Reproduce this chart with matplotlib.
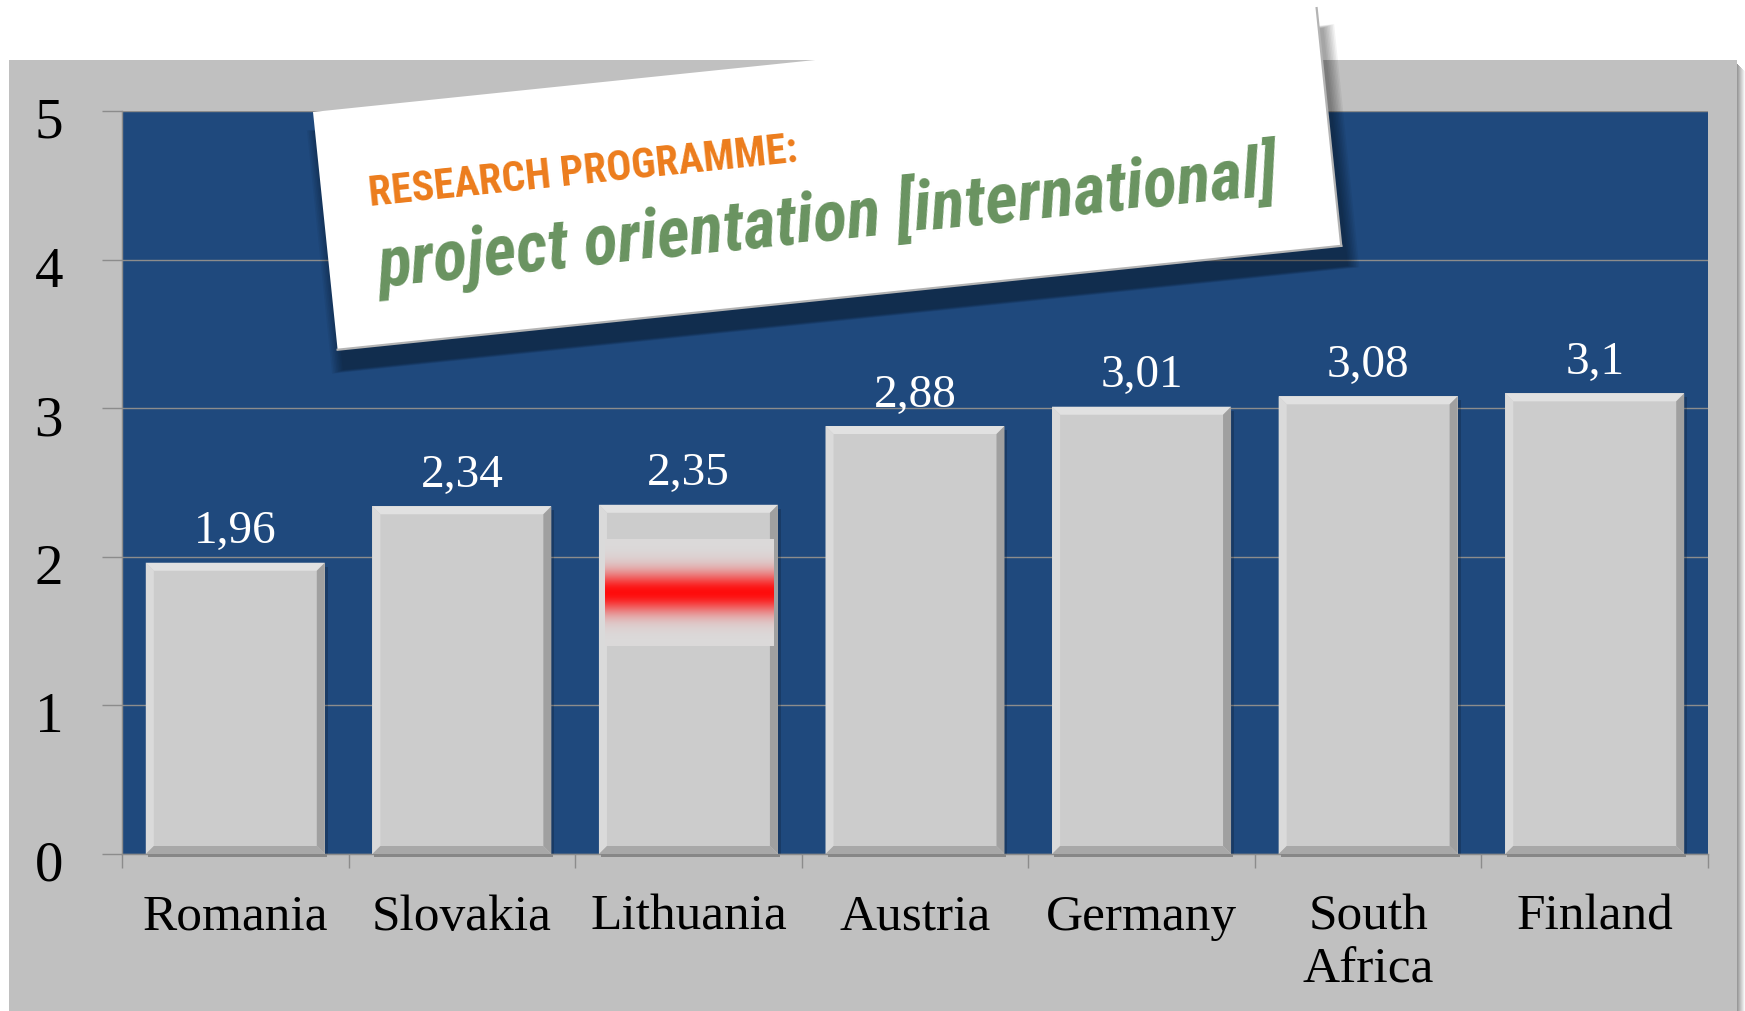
import matplotlib
matplotlib.use("Agg")
import numpy as np
import matplotlib.pyplot as plt
from matplotlib import font_manager as fm
from matplotlib.patches import Polygon, Rectangle
from matplotlib.lines import Line2D
from matplotlib.transforms import ScaledTranslation

# --- data ---
categories = ["Romania", "Slovakia", "Lithuania", "Austria", "Germany", "South\nAfrica", "Finland"]
scores = [1.96, 2.34, 2.35, 2.88, 3.01, 3.08, 3.1]
y_ticks = [0, 1, 2, 3, 4, 5]
highlight = "Lithuania"
kicker = "RESEARCH PROGRAMME:"
headline = "project orientation [international]"

# --- look ---
W, H, DPI = 1745, 1011, 100
BLUE, PANEL, GRID = "#1f497d", "#c0c0c0", "#8c8c8c"
SERIF = ["Liberation Serif", "DejaVu Serif"]
ORANGE, GREEN = "#ec7c1c", "#699360"

def fx(x): return x / W
def fy(y): return 1 - y / H
def fpt(p): return (fx(p[0]), fy(p[1]))

# condensed sans for the title card, whatever is installed
names = {f.name for f in fm.fontManager.ttflist}
cond_dv = any(f.name == "DejaVu Sans" and "condensed" in str(f.stretch) for f in fm.fontManager.ttflist)
if "Liberation Sans Narrow" in names:
    CARD_FONT = dict(family="Liberation Sans Narrow")
elif "Roboto Condensed" in names:
    CARD_FONT = dict(family="Roboto Condensed")
elif cond_dv:
    CARD_FONT = dict(family="DejaVu Sans", fontstretch="condensed")
else:
    CARD_FONT = dict(family="Open Sans")

fig = plt.figure(figsize=(W / DPI, H / DPI), dpi=DPI, facecolor="white")

# gray slide panel with a soft shadow on the right
fig.patches.append(Rectangle((fx(9), 0), fx(1737) - fx(9), fy(60), transform=fig.transFigure,
                             facecolor=PANEL, edgecolor="none", zorder=-3))
for i, g in enumerate(np.linspace(0.60, 0.97, 8)):
    fig.patches.append(Rectangle((fx(1737 + i), 0), fx(1), fy(64 + i), transform=fig.transFigure,
                                 facecolor=(g, g, g), edgecolor="none", zorder=-3))

ax = fig.add_axes([fx(122), fy(854), fx(1708) - fx(122), fy(111) - fy(854)])
ax.set_facecolor(BLUE)
x = np.arange(len(categories))
bars = ax.bar(x, scores, width=0.79, color="#cccccc", linewidth=0, zorder=3)

# bevel on every bar
sx = (1708 - 122) / len(categories)   # px per x unit
sy = (854 - 111) / y_ticks[-1]        # px per y unit
bx, by = 8 / sx, 8 / sy
for r in bars:
    x0, x1, h = r.get_x(), r.get_x() + r.get_width(), r.get_height()
    ax.add_patch(Polygon([(x0, h), (x1, h), (x1 - bx, h - by), (x0 + bx, h - by)], color="#e1e1e1", lw=0, zorder=4))
    ax.add_patch(Polygon([(x0, 0), (x0, h), (x0 + bx, h - by), (x0 + bx, by)], color="#dadada", lw=0, zorder=4))
    ax.add_patch(Polygon([(x1, 0), (x1, h), (x1 - bx, h - by), (x1 - bx, by)], color="#a0a0a0", lw=0, zorder=4))
    ax.add_patch(Polygon([(x0, 0), (x1, 0), (x1 - bx, by), (x0 + bx, by)], color="#a8a8a8", lw=0, zorder=4))
    ax.add_patch(Rectangle((x1, 0), 3 / sx, h - 4 / sy, color="black", alpha=0.18, lw=0, zorder=2))
    ax.add_patch(Rectangle((x0 + 2 / sx, -3 / sy), r.get_width(), 3 / sy, color="#878787", lw=0,
                           zorder=4, clip_on=False))

# red glow band on the highlighted bar
hr = bars[categories.index(highlight)]
d = np.linspace(-0.5, 0.5, 300)
t = np.exp(-(d / 0.19) ** 2)[:, None, None]
band = np.array([0.86, 0.855, 0.855]) * (1 - t) + np.array([1.0, 0.05, 0.05]) * t
bc = 0.747 * hr.get_height()
ax.imshow(band, extent=(hr.get_x() + 6 / sx, hr.get_x() + hr.get_width() - 4 / sx, bc - 0.357, bc + 0.357),
          aspect="auto", interpolation="bilinear", zorder=5)

for r, v in zip(bars, scores):
    ax.annotate(f"{v:g}".replace(".", ","), (r.get_x() + r.get_width() / 2, v), xytext=(0, 14),
                textcoords="offset points", ha="center", va="baseline", color="white",
                fontsize=34, family=SERIF)

ax.set_xlim(-0.5, len(categories) - 0.5)
ax.set_ylim(y_ticks[0], y_ticks[-1])
ax.set_yticks(y_ticks)
ax.set_yticklabels([str(v) for v in y_ticks], fontsize=41, family=SERIF)
ax.set_xticks(x)
ax.set_xticklabels(categories, fontsize=37, family=SERIF, linespacing=1.17)
ax.set_xticks(np.arange(len(categories) + 1) - 0.5, minor=True)
ax.tick_params(axis="y", direction="out", length=14.4, width=1.0, color=GRID, pad=28)
ax.tick_params(axis="x", which="major", length=0, pad=29)
ax.tick_params(axis="x", which="minor", direction="out", length=10, width=1.0, color=GRID)
ax.yaxis.grid(True, color=GRID, lw=1.0)
ax.set_axisbelow(True)
for s in ("top", "right"):
    ax.spines[s].set_visible(False)
for s in ("left", "bottom"):
    ax.spines[s].set_color(GRID)
    ax.spines[s].set_linewidth(1.0)
for lab in ax.get_yticklabels():
    lab.set_transform(lab.get_transform() + ScaledTranslation(0, -5 / 72, fig.dpi_scale_trans))

# tilted title card (image px, y down)
ang = np.deg2rad(5.91)
e1 = np.array([np.cos(ang), -np.sin(ang)])
e2 = np.array([np.sin(ang), np.cos(ang)])
tl = np.array([313.0, 112.0])
cw, ch = 1009, 239
corners = [tl, tl + cw * e1, tl + cw * e1 + ch * e2, tl + ch * e2]
ctr = sum(corners) / 4

for k in range(8):
    grow = 1 + 1.6 * k
    pts = [c + np.array([6, 20]) + grow * (c - ctr) / np.linalg.norm(c - ctr) for c in corners]
    fig.patches.append(Polygon([fpt(p) for p in pts], closed=True, transform=fig.transFigure,
                               facecolor="black", alpha=0.05, edgecolor="none", zorder=5))
fig.patches.append(Polygon([fpt(p) for p in corners], closed=True, transform=fig.transFigure,
                           facecolor="white", edgecolor="none", zorder=6))
for a, b in [(corners[3], corners[2]), (corners[1], corners[2])]:
    fig.lines.append(Line2D([fx(a[0]), fx(b[0])], [fy(a[1]), fy(b[1])], transform=fig.transFigure,
                            color="#b4b4b4", lw=1.6, zorder=7))

renderer = fig.canvas.get_renderer()

def card_text(s, u, v, target_w, max_fs, **kw):
    p = tl + u * e1 + v * e2
    t = fig.text(fx(p[0]), fy(p[1]), s, ha="left", va="baseline", fontsize=max_fs,
                 zorder=8, **CARD_FONT, **kw)
    w = t.get_window_extent(renderer).width
    t.set_fontsize(min(max_fs, max_fs * target_w / w))
    t.set_rotation(np.rad2deg(ang))
    t.set_rotation_mode("anchor")
    return t

card_text(kicker, 47, 99, 431, 31, color=ORANGE, fontweight="bold")
card_text(headline, 49, 181, 906, 60, color=GREEN, fontweight="bold", style="italic")

fig.savefig("out.png", dpi=DPI, facecolor="white")
